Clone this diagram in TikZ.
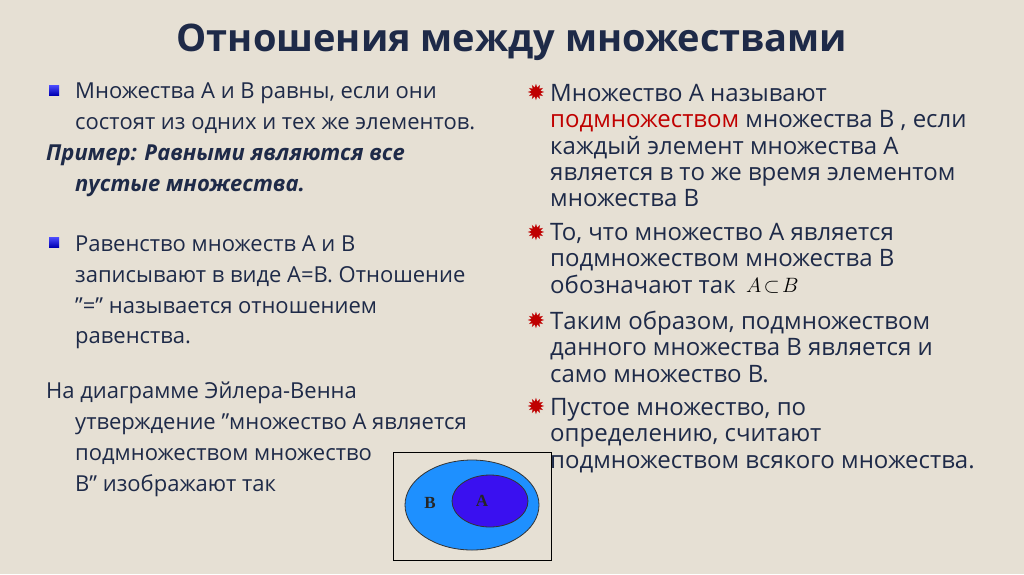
\documentclass[tikz,border=0pt]{standalone}
\usepackage{fontspec}
\setmainfont{Open Sans}
\newfontfamily\djvfont{DejaVu Sans}
\newfontfamily\serffont{Liberation Serif}
\definecolor{bg}{HTML}{E6E0D4}
\definecolor{tx}{HTML}{1E2A48}
\definecolor{rd}{HTML}{C00000}
\definecolor{ob}{HTML}{1E90FF}
\definecolor{ib}{HTML}{3A10F0}
\newcommand{\qq}{{\char34}}
\begin{document}
\begin{tikzpicture}[x=1pt,y=-1pt,
  ln/.style={anchor=base west,inner sep=0pt,text=tx,font=\fontsize{22}{24}\selectfont},
  rn/.style={anchor=base west,inner sep=0pt,text=tx,font=\fontsize{24}{26}\selectfont},
  sq/.style={minimum size=10pt,inner sep=0pt,left color=white!30!blue,right color=blue!70!black,shading angle=0},
  star/.style={text=red!75!black,font=\djvfont\fontsize{22}{22}\selectfont,anchor=center,inner sep=0pt}]
\useasboundingbox (0,0) rectangle (1024,574);
\fill[bg] (0,0) rectangle (1024,574);
\node[anchor=center,text=tx,font=\bfseries\fontsize{38}{40}\selectfont] (title) at (512,42) {Отношения между множествами};
% left
\node[sq] (s1) at (54,90) {};
\node[ln] (l1) at (75,98) {Множества А и В равны, если они};
\node[ln] (l2) at (75,129) {состоят из одних и тех же элементов.};
\node[ln,font=\bfseries\itshape\fontsize{22}{24}\selectfont] (l3) at (46,160) {Пример: Равными являются все};
\node[ln,font=\bfseries\itshape\fontsize{22}{24}\selectfont] (l4) at (75,191) {пустые множества.};
\node[sq] (s2) at (54,242) {};
\node[ln] (l5) at (75,251) {Равенство множеств А и В};
\node[ln] (l6) at (75,282) {записывают в виде А=В. Отношение};
\node[ln] (l7) at (75,313) {\qq=\qq{} называется отношением};
\node[ln] (l8) at (75,343) {равенства.};
\node[ln] (l9) at (46,398) {На диаграмме Эйлера-Венна};
\node[ln] (l10) at (75,429) {утверждение \qq множество А является};
\node[ln] (l11) at (75,460) {подмножеством множество};
\node[ln] (l12) at (75,491) {В\qq{} изображают так};
% diagram
\draw[black,line width=0.8pt] (393,452) rectangle (551,560);
\draw[black!80,fill=ob,line width=0.8pt] (472,505) ellipse (67 and 45);
\draw[black!80,fill=ib,line width=0.8pt] (490,501) ellipse (38 and 26);
\node[font=\serffont\bfseries\fontsize{17}{17}\selectfont,text=black!85] (B) at (430,503) {B};
\node[font=\serffont\bfseries\fontsize{17}{17}\selectfont,text=black!85] (A) at (482,501) {A};
% right
\node[star] (r1) at (536,92) {✹};
\node[rn] (m1) at (550,101) {Множество А называют};
\node[rn] (m2) at (550,127) {\textcolor{rd}{подмножеством} множества В , если};
\node[rn] (m3) at (550,154) {каждый элемент множества А};
\node[rn] (m4) at (550,180) {является в то же время элементом};
\node[rn] (m5) at (550,206) {множества В};
\node[star] (r2) at (536,232) {✹};
\node[rn] (m6) at (550,240) {То, что множество А является};
\node[rn] (m7) at (550,266) {подмножеством множества В};
\node[rn] (m8) at (550,293) {обозначают так};
\node[anchor=base west,inner sep=0pt,font=\fontsize{20}{20}\selectfont] (sub) at (746,292) {$A\!\subset\! B$};
\node[star] (r3) at (536,320) {✹};
\node[rn] (m9) at (550,329) {Таким образом, подмножеством};
\node[rn] (m10) at (550,355) {данного множества В является и};
\node[rn] (m11) at (550,382) {само множество В.};
\node[star] (r4) at (536,406) {✹};
\node[rn] (m12) at (550,415) {Пустое множество, по};
\node[rn] (m13) at (550,441) {определению, считают};
\node[rn] (m14) at (550,468) {подмножеством всякого множества.};
\end{tikzpicture}
\end{document}
